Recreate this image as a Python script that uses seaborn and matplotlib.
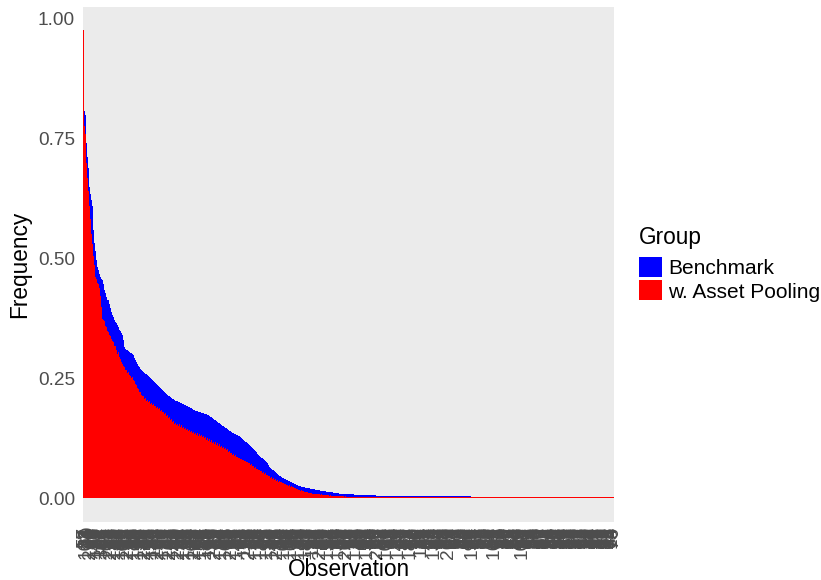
import numpy as np
import pandas as pd
import matplotlib
matplotlib.use("Agg")
import matplotlib.pyplot as plt
from matplotlib.patches import Patch
import seaborn as sns

# ---- data (frequencies in per-mille) ----
benchmark_pm = [
    976, 808, 800, 742, 712, 690, 650, 635, 623, 609,
    560, 532, 515, 498, 483, 476, 468, 462, 458, 455,
    446, 434, 428, 420, 413, 413, 405, 396, 388, 382,
    378, 372, 368, 365, 362, 358, 352, 348, 344, 340,
    330, 315, 312, 310, 309, 307, 306, 304, 303, 302,
    298, 293, 288, 284, 280, 276, 273, 270, 268, 266,
    264, 262, 260, 260, 258, 255, 252, 250, 248, 246,
    244, 242, 240, 239, 237, 235, 232, 230, 228, 226,
    224, 222, 220, 218, 216, 214, 213, 212, 210, 208,
    207, 206, 204, 203, 202, 200, 200, 199, 198, 197,
    196, 195, 194, 193, 192, 191, 190, 189, 188, 186,
    185, 184, 183, 182, 182, 181, 180, 179, 178, 177,
    177, 176, 176, 176, 174, 173, 172, 170, 169, 168,
    166, 164, 163, 161, 160, 158, 157, 155, 153, 151,
    150, 148, 147, 146, 145, 143, 141, 140, 138, 137,
    136, 135, 134, 133, 132, 131, 130, 128, 126, 124,
    122, 120, 118, 117, 115, 113, 111, 109, 107, 105,
    103, 100, 98, 96, 93, 91, 89, 87, 85, 84,
    82, 80, 78, 75, 73, 70, 66, 64, 62, 60,
    58, 56, 54, 53, 51, 49, 47, 46, 45, 43,
    42, 41, 40, 39, 38, 37, 36, 35, 34, 32,
    31, 30, 29, 28, 27, 26, 25, 25, 24, 24,
    23, 23, 22, 22, 21, 21, 21, 20, 20, 19,
    19, 19, 18, 18, 18, 17, 17, 16, 16, 16,
    15, 15, 15, 14, 14, 14, 13, 13, 13, 13,
    12, 12, 12, 11, 11, 11, 10, 10, 10, 10,
    9, 9, 9, 9, 8, 8, 8, 8, 8, 8,
    7, 7, 7, 7, 7, 7, 6.5, 6.5, 6.5, 6.5,
    6.5, 6.5, 6.5, 6, 6, 6, 6, 6, 6, 6,
    6, 6, 5.5, 5.5, 5.5, 5.5, 5.5, 5.5, 5.5, 5.5,
    5, 5, 5, 5, 5, 5, 5, 5, 5, 5,
    5, 5, 5, 5, 5, 5, 5, 5, 5, 5,
    4.5, 4.5, 4.5, 4.5, 4.5, 4.5, 4.5, 4.5, 4.5, 4.5,
    4.5, 4.5, 4.5, 4.5, 4.5, 4.5, 4.5, 4.5, 4.5, 4.5,
    4.5, 4.5, 4.5, 4.5, 4.5, 4.5, 4.5, 4.5, 4.5, 4.5,
    4, 4, 4, 4, 4, 4, 4, 4, 4, 4,
    4, 4, 4, 4, 4, 4, 4, 4, 4, 4,
    4, 4, 4, 4, 4, 4, 4, 4, 4, 4,
    4, 4, 4, 4, 4, 4, 4, 2, 2, 2,
    2, 2, 2, 2, 2, 2, 2, 2, 2, 2,
    2, 2, 2, 2, 2, 2, 2, 2, 2, 2,
    2, 2, 2, 2, 2, 2, 2, 2, 2, 2,
    2, 2, 2, 2, 2, 2, 2, 2, 2, 2,
    2, 2, 2, 2, 2, 2, 2, 2, 2, 2,
    2, 2, 2, 2, 2, 2, 2, 2, 2, 2,
    2, 2, 2, 2, 2, 2, 2, 2, 2, 2,
    2, 2, 2, 2, 2, 2, 2, 2, 2, 2,
    2, 2, 2, 2, 2, 2, 2, 2, 2, 2,
    2, 2, 2, 2, 2, 2, 2, 2, 2, 2,
    2, 2, 2, 2, 2, 2, 2, 2, 2, 2,
    2, 2, 2, 2, 2, 2, 2, 2, 2, 2,
    2, 2, 2, 2, 2, 2, 2, 2, 2, 2,
    2, 2, 2, 2, 2, 2, 2, 2, 2, 2,
]

pooling_pm = [
    976, 776, 760, 700, 668, 642, 610, 583, 552, 530,
    505, 486, 462, 458, 449, 447, 438, 421, 398, 375,
    371, 369, 360, 357, 349, 347, 340, 339, 332, 329,
    326, 318, 317, 310, 300, 305, 294, 291, 285, 281,
    275, 273, 268, 267, 262, 263, 257, 255, 250, 252,
    247, 245, 238, 237, 230, 229, 222, 221, 216, 214,
    213, 208, 209, 204, 206, 201, 202, 197, 199, 195,
    196, 192, 193, 189, 191, 186, 188, 183, 185, 180,
    181, 176, 177, 172, 174, 168, 169, 164, 166, 160,
    161, 156, 158, 153, 156, 151, 154, 149, 152, 147,
    148, 145, 146, 142, 145, 140, 143, 139, 141, 137,
    139, 135, 137, 133, 136, 131, 134, 129, 132, 127,
    129, 125, 127, 122, 125, 120, 123, 118, 121, 116,
    118, 114, 117, 112, 115, 110, 113, 107, 110, 105,
    107, 102, 105, 100, 102, 97, 99, 94, 95, 91,
    92, 88, 90, 86, 87, 84, 85, 82, 83, 79,
    80, 77, 78, 75, 76, 73, 74, 70, 71, 67,
    68, 64, 65, 61, 62, 58, 59, 56, 57, 53,
    54, 51, 52, 48, 49, 46, 47, 43, 44, 41,
    42, 39, 40, 37, 38, 35, 36, 33, 34, 31,
    32, 29, 30, 27, 28, 26, 27, 24, 25, 23,
    23, 21, 22, 19, 20, 18, 18, 16, 17, 15,
    15, 14, 14, 13, 13, 12, 12, 11, 11, 10,
    10, 9, 9, 8, 9, 8, 8, 7, 8, 7,
    7, 6, 7, 6, 6, 6, 5, 6, 5, 5,
    5, 5, 5, 4, 5, 4, 4, 4, 4, 4,
    4, 3.5, 4, 3.5, 3.5, 3.5, 3.5, 3.5, 3.5, 3.5,
    3.5, 3, 3, 3, 3, 3, 3, 3, 3, 3,
    3, 3, 3, 3, 3, 3, 3, 3, 3, 3,
    3, 3, 3, 3, 3, 3, 3, 3, 3, 3,
    3, 3, 3, 3, 3, 3, 3, 3, 3, 3,
    3, 3, 3, 3, 3, 3, 3, 3, 3, 3,
    3, 3, 3, 3, 3, 3, 3, 3, 3, 3,
    3, 3, 3, 3, 3, 3, 3, 3, 3, 3,
    3, 3, 3, 3, 3, 3, 3, 3, 3, 3,
    3, 3, 3, 3, 3, 3, 3, 3, 3, 3,
    3, 3, 3, 3, 3, 3, 3, 3, 3, 3,
    3, 3, 3, 3, 3, 3, 3, 3, 3, 3,
    3, 3, 3, 3, 3, 3, 3, 3, 3, 3,
    3, 3, 3, 3, 3, 3, 3, 3, 3, 3,
    3, 3, 3, 3, 3, 3, 3, 3, 3, 3,
    3, 3, 3, 3, 3, 3, 3, 3, 3, 3,
    3, 3, 3, 3, 3, 3, 3, 3, 3, 3,
    3, 3, 3, 3, 3, 3, 3, 3, 3, 3,
    3, 3, 3, 3, 3, 3, 3, 3, 3, 3,
    3, 3, 3, 3, 3, 3, 3, 3, 3, 3,
    3, 3, 3, 3, 3, 3, 3, 3, 3, 3,
    3, 3, 3, 3, 3, 3, 3, 3, 3, 3,
    3, 3, 3, 3, 3, 3, 3, 3, 3, 3,
    3, 3, 3, 3, 3, 3, 3, 3, 3, 3,
    3, 3, 3, 3, 3, 3, 3, 3, 3, 3,
    3, 3, 3, 3, 3, 3, 3, 3, 3, 3,
    3, 3, 3, 3, 3, 3, 3, 3, 3, 3,
]

obs_labels = """
12 57 103 88 41 9 76 230 64 19 85 147 33 70 52 118 27 94 61 305
46 81 15 162 38 99 73 24 210 56 67 131 29 90 44 78 186 35 58 22
107 63 11 84 49 275 36 92 17 68 125 53 80 31 196 45 72 26 139 59
87 14 240 39 66 98 21 154 75 50 32 113 83 42 18 267 60 95 28 171
54 71 37 122 89 23 48 205 65 13 97 40 144 79 30 62 251 16 86 55
178 43 69 25 91 134 34 77 20 109 58 47 223 82 39 64 10 157 93 51
27 74 189 36 60 85 116 22 48 96 70 33 282 57 14 81 44 127 67 29
99 52 165 38 73 18 90 41 217 62 26 87 55 149 31 76 45 12 94 68
35 110 59 83 21 46 236 71 30 97 53 17 175 64 40 88 24 120 77 49
15 92 61 193 37 80 28 56 72 141 43 98 19 66 258 34 85 50 23 78
106 47 63 11 89 32 54 169 74 39 95 27 60 82 13 129 44 70 36 91
58 20 183 76 42 65 25 99 51 115 31 87 48 16 73 62 35 246 93 57
29 81 40 67 152 22 54 96 38 75 18 61 84 45 137 30 69 52 14 90
37 78 26 200 63 47 86 33 71 19 58 124 42 94 55 28 80 66 11 49
97 35 74 159 24 60 88 41 53 16 79 30 68 212 46 92 21 57 83 39
64 27 101 50 75 13 86 43 62 34 98 20 71 56 145 38 82 25 67 48
93 31 59 17 77 44 181 65 28 89 52 36 72 15 96 41 58 119 23 84
46 69 33 91 54 12 78 39 64 26 132 50 87 22 61 43 95 30 73 57
18 85 37 70 262 49 27 94 60 14 81 45 66 32 99 53 21 76 40 88
29 63 51 16 92 35 74 47 195 24 68 56 11 83 42 97 31 59 79 20
65 38 90 26 72 48 14 86 53 34 163 77 41 61 23 95 50 17 70 44
82 30 57 99 22 66 45 13 88 36 75 54 27 93 62 19 80 39 108 52
25 71 47 91 33 64 15 84 58 42 76 28 96 50 21 69 37 87 55 12
79 43 63 31 98 24 74 51 18 89 40 67 29 85 56 35 72 16 94 46
60 27 81 39 53 11 90 48 68 32 77 20 97 59 42 86 26 65 37 73
14 92 49 30 71 55 23 83 44 62 19 96 36 78 57 25 88 41 66 33
75 17 52 99 28 61 45 84 13 70
""".split()

groups = ["Benchmark", "w. Asset Pooling"]
group_colors = ["#0000FF", "#FF0000"]
y_ticks = [0.0, 0.25, 0.50, 0.75, 1.00]

n_obs = min(len(benchmark_pm), len(pooling_pm), len(obs_labels))
df = pd.DataFrame({
    "obs": np.arange(n_obs),
    groups[0]: np.array(benchmark_pm[:n_obs], dtype=float) / 1000.0,
    groups[1]: np.array(pooling_pm[:n_obs], dtype=float) / 1000.0,
})

plt.rcParams["font.family"] = ["Liberation Sans", "DejaVu Sans"]

W, H = 821, 580
fig = plt.figure(figsize=(W / 100, H / 100), dpi=100)
left, right, top, bottom = 83, 614, 7, 521.7
ax = fig.add_axes([left / W, 1 - bottom / H, (right - left) / W, (bottom - top) / H])
ax.set_facecolor("#EBEBEB")

for g, c in zip(groups, group_colors):
    sns.barplot(data=df, x="obs", y=g, color=c, saturation=1, width=1.0,
                linewidth=0, errorbar=None, ax=ax)

ymax = df[groups].to_numpy().max()
ax.set_ylim(-0.05 * ymax, 1.05 * ymax)
ax.set_xlim(-0.6, n_obs - 0.4)

for s in ax.spines.values():
    s.set_visible(False)
ax.grid(False)
ax.tick_params(axis="both", length=0)
ax.set_yticks(y_ticks)
ax.set_yticklabels([f"{v:.2f}" for v in y_ticks], fontsize=13.7, color="#4D4D4D")
ax.tick_params(axis="y", pad=5.8)
ax.set_xticks(np.arange(n_obs))
ax.set_xticklabels(obs_labels[:n_obs], rotation=90, fontsize=13.7, color="#4D4D4D")
ax.tick_params(axis="x", pad=3.8)
ax.set_xlabel("")
ax.set_ylabel("")

fig.text(20 / W, 1 - 264 / H, "Frequency", rotation=90, ha="center", va="center",
         fontsize=16.3, color="black")
fig.text((left + right) / 2 / W, 1 - 570 / H, "Observation", ha="center", va="center",
         fontsize=16.3, color="black")

handles = [Patch(facecolor=c, edgecolor="none") for c in group_colors]
leg = fig.legend(handles=handles, labels=groups, title="Group", loc="upper left",
                 bbox_to_anchor=(639 / W, 1 - 226 / H), frameon=False,
                 fontsize=15, title_fontsize=16.3, alignment="left",
                 handlelength=1.1, handleheight=1.1, handletextpad=0.3,
                 labelspacing=0.1, borderpad=0, borderaxespad=0)
leg._legend_box.sep = 6

fig.savefig("out.png", dpi=100)
